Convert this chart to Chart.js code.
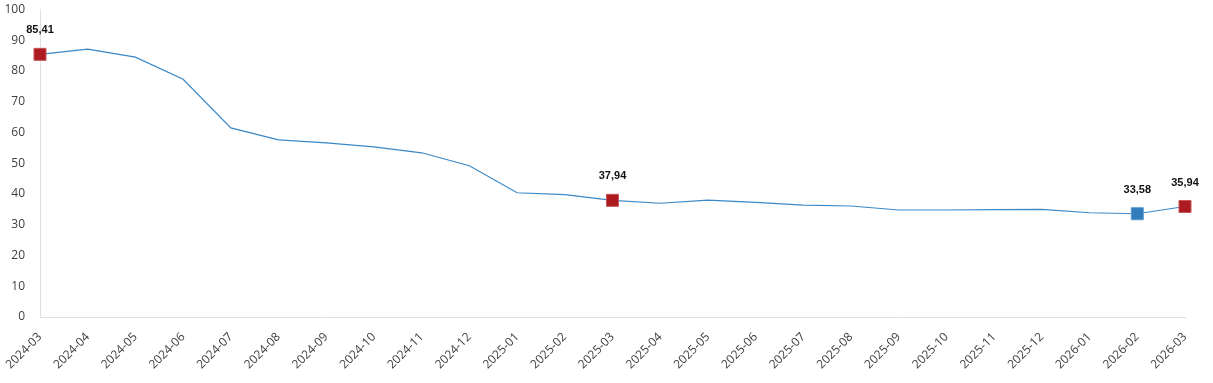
<!DOCTYPE html>
<html>
<head>
<meta charset="utf-8">
<script src="https://cdn.jsdelivr.net/npm/chart.js@4/dist/chart.umd.min.js"></script>
<style>
html,body{margin:0;padding:0;background:#fff;}
#wrap{width:1213px;height:383px;position:relative;}
</style>
</head>
<body>
<div id="wrap"><canvas id="c"></canvas></div>
<script>
const categories = ["2024-03","2024-04","2024-05","2024-06","2024-07","2024-08","2024-09","2024-10","2024-11","2024-12","2025-01","2025-02","2025-03","2025-04","2025-05","2025-06","2025-07","2025-08","2025-09","2025-10","2025-11","2025-12","2026-01","2026-02","2026-03"];
const values = [85.41,87.1,84.5,77.3,61.5,57.6,56.6,55.3,53.4,49.2,40.4,39.8,37.94,37.0,38.0,37.3,36.4,36.1,34.8,34.8,34.9,35.0,33.9,33.58,35.94];
const redMarkers = ["2024-03","2025-03","2026-03"];
const blueMarkers = ["2026-02"];
const yTicks = [0,10,20,30,40,50,60,70,80,90,100];

const RED = "#ad1a1f", BLUE = "#2e7cba", LINE = "#3b88c6";
const isMarked = c => redMarkers.includes(c) || blueMarkers.includes(c);
const pointColors = categories.map(c => redMarkers.includes(c) ? RED : (blueMarkers.includes(c) ? BLUE : LINE));
const pointRadii = categories.map(c => isMarked(c) ? 8.5 : 0);

const labelPlugin = {
  id: 'lbl',
  afterDatasetsDraw(chart) {
    const ctx = chart.ctx;
    const meta = chart.getDatasetMeta(0);
    ctx.save();
    ctx.font = "bold 11px 'Liberation Sans', Arial, sans-serif";
    ctx.fillStyle = "#111";
    ctx.textAlign = "center";
    ctx.textBaseline = "middle";
    categories.forEach((c, i) => {
      if (!isMarked(c)) return;
      const p = meta.data[i];
      ctx.fillText(values[i].toFixed(2).replace('.', ','), p.x, p.y - 24);
    });
    ctx.restore();
  }
};

new Chart(document.getElementById('c'), {
  type: 'line',
  data: {
    labels: categories,
    datasets: [{
      data: values,
      borderColor: LINE,
      borderWidth: 1.2,
      tension: 0,
      pointStyle: 'rect',
      pointRadius: pointRadii,
      pointHoverRadius: pointRadii,
      pointBackgroundColor: pointColors,
      pointBorderColor: categories.map(c => redMarkers.includes(c) ? "#c9575b" : (blueMarkers.includes(c) ? "#5c9ad0" : LINE)),
      pointBorderWidth: 1
    }]
  },
  options: {
    responsive: true,
    maintainAspectRatio: false,
    animation: false,
    layout: { padding: { top: 8, right: 28, left: 0, bottom: 0 } },
    plugins: { legend: { display: false }, tooltip: { enabled: false } },
    scales: {
      x: {
        offset: false,
        grid: { display: false },
        border: { display: true, color: "#dde1e7", width: 1 },
        ticks: {
          color: "#404040",
          font: { family: "'Open Sans', 'Noto Sans', sans-serif", size: 12 },
          maxRotation: 45, minRotation: 45, autoSkip: false, padding: 5
        },
        afterFit: s => { s.height = 66; s.paddingLeft = 0; s.paddingRight = 0; }
      },
      y: {
        min: 0, max: 100,
        afterBuildTicks: s => { s.ticks = yTicks.map(v => ({ value: v })); },
        grid: { display: false },
        border: { display: true, color: "#dde1e7", width: 1 },
        ticks: {
          color: "#404040",
          font: { family: "'Open Sans', 'Noto Sans', sans-serif", size: 12 },
          padding: 7
        },
        afterFit: s => { s.width = 40; s.paddingTop = 0; s.paddingBottom = 0; }
      }
    }
  },
  plugins: [labelPlugin]
});
</script>
</body>
</html>
